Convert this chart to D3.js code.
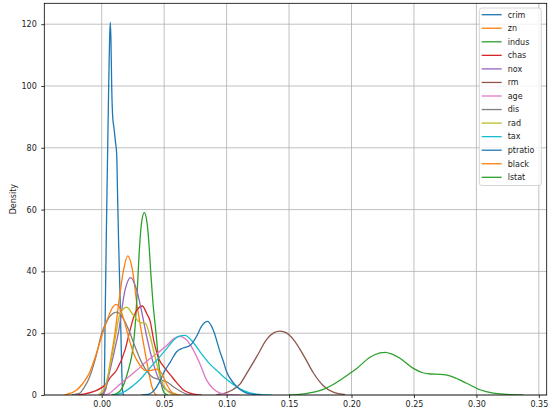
<!DOCTYPE html>
<html><head><meta charset="utf-8">
<script src="https://cdn.jsdelivr.net/npm/d3@7"></script>
<style>body{margin:0;background:#fff}svg{display:block}text{font-family:"DejaVu Sans",sans-serif}</style>
</head><body><svg id="c" width="557" height="420"></svg>
<script>
// ---- data ----
const seriesNames = ["crim","zn","indus","chas","nox","rm","age","dis","rad","tax","ptratio","black","lstat"];
const seriesColors = ["#1f77b4","#ff7f0e","#2ca02c","#d62728","#9467bd","#8c564b","#e377c2","#7f7f7f","#bcbd22","#17becf","#1f77b4","#ff7f0e","#2ca02c"];
const xTicks = [0,0.05,0.10,0.15,0.20,0.25,0.30,0.35];
const yTicks = [0,20,40,60,80,100,120];

const crim = [[0.0010,0],[0.0018,0.3],[0.0022,5],[0.0026,20],[0.0033,40],[0.0040,60],[0.0048,80],[0.0056,100],[0.0063,115],[0.0069,120.6],[0.0074,115],[0.0080,100],[0.0088,90],[0.0098,86.5],[0.0110,82],[0.0120,78],[0.0127,65],[0.0135,50],[0.0145,35],[0.0155,18],[0.0162,6],[0.0168,1],[0.0175,0]];
const zn = [[-0.002,0],[0.000,0.3],[0.003,1.5],[0.0066,10],[0.0106,20],[0.0137,30],[0.0173,40],[0.0208,45],[0.0248,40],[0.028,30],[0.032,20],[0.0365,10],[0.040,3],[0.042,0.8],[0.044,0]];
const indus = [[0.008,0],[0.012,0.5],[0.016,2],[0.0213,8],[0.0239,12.4],[0.0253,16],[0.0267,22],[0.0285,34],[0.0300,46],[0.0320,56],[0.0341,59],[0.0362,56],[0.0380,48],[0.0392,40],[0.0410,30],[0.0435,20],[0.0460,9],[0.0480,3],[0.0500,0.8],[0.053,0]];
const chas = [[-0.020,0],[-0.015,0.3],[-0.0067,1.1],[0.004,3.8],[0.0066,5.5],[0.012,8.1],[0.0187,14.6],[0.0227,21],[0.0267,26.4],[0.0325,28.8],[0.036,26.4],[0.0387,24],[0.042,17],[0.046,11.5],[0.050,9],[0.055,6.5],[0.060,4],[0.065,1.8],[0.070,0.7],[0.076,0.1],[0.080,0]];
const nox = [[-0.002,0],[0.002,1],[0.0066,8],[0.010,14],[0.0133,20],[0.0187,34],[0.0232,38],[0.028,34],[0.032,27],[0.036,19],[0.0413,10.3],[0.0453,5.5],[0.0493,2.7],[0.0573,0.4],[0.062,0]];
const rm = [[0.092,0.1],[0.100,0.8],[0.1053,1.8],[0.1107,3.5],[0.1161,7],[0.1241,12.4],[0.1321,18],[0.138,20.2],[0.1428,20.7],[0.148,20.1],[0.1534,18],[0.1614,13],[0.1694,7.2],[0.1774,3],[0.1854,0.9],[0.195,0.1]];
const age = [[0.002,0],[0.006,0.5],[0.0106,2],[0.016,4],[0.022,6],[0.028,8],[0.034,10.2],[0.040,12.2],[0.0467,14.2],[0.052,16],[0.057,18],[0.0627,19],[0.068,17.8],[0.0733,14.6],[0.0787,10],[0.084,4.8],[0.0893,2],[0.095,0.6],[0.102,0.1],[0.110,0]];
const dis = [[-0.024,0],[-0.018,0.5],[-0.014,2.5],[-0.010,5.5],[-0.0046,12.4],[0.000,20],[0.005,24.5],[0.012,26.8],[0.016,25.5],[0.0227,20],[0.0267,15.6],[0.0333,9.5],[0.040,6],[0.046,5],[0.052,4.3],[0.058,2.5],[0.0627,1.3],[0.068,0.3],[0.072,0]];
const rad = [[-0.003,0],[0.0026,2.7],[0.0066,9.2],[0.0106,17.8],[0.0147,26.4],[0.020,28.4],[0.025,26],[0.0307,23.5],[0.035,23.2],[0.0387,19],[0.0427,12.4],[0.0467,5.9],[0.052,1.6],[0.057,0.2],[0.060,0]];
const tax = [[0.010,0],[0.015,0.5],[0.020,1.5],[0.025,3],[0.0307,5],[0.036,7.5],[0.0413,10],[0.0467,12.5],[0.052,15],[0.057,17.5],[0.0615,19],[0.0665,19.3],[0.0733,17],[0.0787,14],[0.0867,10],[0.0933,7.5],[0.0973,6],[0.1027,4.2],[0.1107,2],[0.118,0.8],[0.126,0.2],[0.136,0]];
const ptratio = [[0.032,0],[0.038,0.3],[0.042,1.5],[0.046,4],[0.050,7.5],[0.0547,10.5],[0.060,14],[0.0653,15.2],[0.0707,16],[0.076,19],[0.080,22.3],[0.0849,23.8],[0.0893,21],[0.0947,14],[0.0973,11],[0.100,7.5],[0.1053,4],[0.110,2],[0.115,0.8],[0.122,0.2],[0.128,0]];
const black = [[-0.030,0],[-0.028,0.2],[-0.020,1.6],[-0.015,3.8],[-0.010,7],[-0.005,12.5],[0.000,19],[0.005,25],[0.009,28.5],[0.0115,29.3],[0.014,28.5],[0.018,24],[0.022,18],[0.026,13],[0.030,10],[0.035,8],[0.040,8],[0.044,8.4],[0.048,7],[0.052,3.5],[0.056,1],[0.060,0.2],[0.063,0]];
const lstat = [[0.150,0],[0.160,0.3],[0.1708,1],[0.1774,1.8],[0.185,3.3],[0.1908,4.8],[0.198,6.8],[0.2042,8.6],[0.2148,12.2],[0.2228,13.6],[0.2268,13.8],[0.232,13.3],[0.2388,11.9],[0.2495,8.6],[0.257,7.2],[0.263,6.8],[0.2709,6.7],[0.2765,6.4],[0.2815,5.8],[0.2922,3.8],[0.3029,1.7],[0.3135,0.6],[0.3243,0.2],[0.3376,0]];

const seriesData = [crim,zn,indus,chas,nox,rm,age,dis,rad,tax,ptratio,black,lstat];

// ---- layout ----
const L = 44.3, R = 546.7, T = 3.3, B = 395;
const FS = "8px";
const svg = d3.select("#c");
const x = d3.scaleLinear().domain([-0.04596, 0.35628]).range([L, R]);
const y = d3.scaleLinear().domain([0, 126.76]).range([B, T]);

// grid
const grid = svg.append("g");
grid.selectAll("line.gx").data(xTicks).join("line")
  .attr("x1", d => x(d)).attr("x2", d => x(d)).attr("y1", T).attr("y2", B)
  .attr("stroke", "#b0b0b0").attr("stroke-width", 0.8);
grid.selectAll("line.gy").data(yTicks).join("line")
  .attr("y1", d => y(d)).attr("y2", d => y(d)).attr("x1", L).attr("x2", R)
  .attr("stroke", "#b0b0b0").attr("stroke-width", 0.8);

// curves
const line = d3.line().x(d => x(d[0])).y(d => y(d[1])).curve(d3.curveMonotoneX);
svg.append("clipPath").attr("id","pc").append("rect")
  .attr("x", L).attr("y", T).attr("width", R-L).attr("height", B-T);
const gc = svg.append("g").attr("clip-path","url(#pc)");
seriesData.forEach((s,i) => {
  gc.append("path").attr("d", line(s)).attr("fill","none")
    .attr("stroke", seriesColors[i]).attr("stroke-width", 1.3)
    .attr("stroke-linejoin","round").attr("stroke-linecap","butt");
});

// axes
const xAxis = d3.axisBottom(x).tickValues(xTicks).tickFormat(d3.format(".2f")).tickSize(3).tickPadding(3.5);
const yAxis = d3.axisLeft(y).tickValues(yTicks).tickFormat(d3.format("d")).tickSize(3).tickPadding(4.5);
const gx = svg.append("g").attr("transform", `translate(0,${B})`).call(xAxis);
const gy = svg.append("g").attr("transform", `translate(${L},0)`).call(yAxis);
[gx, gy].forEach(g => {
  g.select(".domain").remove();
  g.selectAll(".tick line").attr("stroke", "#000").attr("stroke-width", 0.8);
  g.selectAll(".tick text").attr("fill", "#222").style("font-size", FS).style("font-family", '"DejaVu Sans",sans-serif');
});

// frame
svg.append("rect").attr("x", L).attr("y", T).attr("width", R-L).attr("height", B-T)
  .attr("fill","none").attr("stroke","#000").attr("stroke-width",0.8);

// y label
svg.append("text").attr("transform", `translate(13,${(T+B)/2}) rotate(-90)`)
  .attr("text-anchor","middle").attr("dy","0.35em").style("font-size",FS).attr("fill","#222").text("Density");

// legend
const lg = svg.append("g");
const lx = 479.3, ly = 8, lw = 62, lh = 177.5;
lg.append("rect").attr("x", lx).attr("y", ly).attr("width", lw).attr("height", lh)
  .attr("rx", 2.5).attr("fill","#fff").attr("fill-opacity",0.8).attr("stroke","#cccccc").attr("stroke-width",0.8);
seriesNames.forEach((n,i) => {
  const cy = 14.7 + i*13.55;
  lg.append("line").attr("x1", 481.7).attr("x2", 501.7).attr("y1", cy).attr("y2", cy)
    .attr("stroke", seriesColors[i]).attr("stroke-width", 1.3);
  lg.append("text").attr("x", 507.7).attr("y", cy).attr("dy","0.35em")
    .style("font-size",FS).attr("fill","#222").text(n);
});
</script></body></html>
